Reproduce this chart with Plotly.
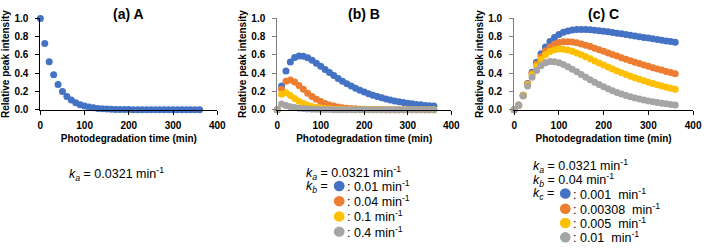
import plotly.graph_objects as go

# ---------------- data ----------------
time_min = [0, 10, 20, 30, 40, 50, 60, 70, 80, 90, 100, 110, 120, 130, 140, 150, 160, 170, 180,
            190, 200, 210, 220, 230, 240, 250, 260, 270, 280, 290, 300, 310, 320, 330, 340, 350, 360]

a_values = [1.000, 0.725, 0.526, 0.382, 0.277, 0.201, 0.146, 0.106, 0.077, 0.056, 0.040, 0.029,
            0.021, 0.015, 0.011, 0.008, 0.006, 0.004, 0.003, 0.002, 0.002, 0.001, 0.001, 0.001,
            0.000, 0.000, 0.000, 0.000, 0.000, 0.000, 0.000, 0.000, 0.000, 0.000, 0.000, 0.000, 0.000]

b_kb_001 = [0.000, 0.261, 0.425, 0.522, 0.571, 0.589, 0.586, 0.568, 0.541, 0.510, 0.476, 0.441,
            0.407, 0.374, 0.342, 0.312, 0.285, 0.259, 0.236, 0.214, 0.194, 0.176, 0.160, 0.145,
            0.131, 0.119, 0.108, 0.097, 0.088, 0.080, 0.072, 0.065, 0.059, 0.054, 0.048, 0.044, 0.040]
b_kb_004 = [0.000, 0.224, 0.313, 0.327, 0.305, 0.266, 0.224, 0.182, 0.146, 0.115, 0.090, 0.069,
            0.053, 0.040, 0.030, 0.023, 0.017, 0.013, 0.010, 0.007, 0.005, 0.004, 0.003, 0.002,
            0.002, 0.001, 0.001, 0.001, 0.000, 0.000, 0.000, 0.000, 0.000, 0.000, 0.000, 0.000, 0.000]
b_kb_01 = [0.000, 0.169, 0.185, 0.157, 0.122, 0.092, 0.068, 0.050, 0.036, 0.026, 0.019, 0.014,
           0.010, 0.007, 0.005, 0.004, 0.003, 0.002, 0.001, 0.001, 0.001, 0.001, 0.000, 0.000,
           0.000, 0.000, 0.000, 0.000, 0.000, 0.000, 0.000, 0.000, 0.000, 0.000, 0.000, 0.000, 0.000]
b_kb_04 = [0.000, 0.062, 0.046, 0.033, 0.024, 0.018, 0.013, 0.009, 0.007, 0.005, 0.004, 0.003,
           0.002, 0.001, 0.001, 0.001, 0.001, 0.000, 0.000, 0.000, 0.000, 0.000, 0.000, 0.000,
           0.000, 0.000, 0.000, 0.000, 0.000, 0.000, 0.000, 0.000, 0.000, 0.000, 0.000, 0.000, 0.000]

c_kc_0001 = [0.000, 0.051, 0.160, 0.288, 0.411, 0.521, 0.613, 0.688, 0.746, 0.791, 0.823, 0.847,
             0.862, 0.872, 0.877, 0.879, 0.878, 0.875, 0.871, 0.866, 0.860, 0.853, 0.846, 0.838,
             0.831, 0.823, 0.815, 0.807, 0.799, 0.792, 0.784, 0.776, 0.769, 0.761, 0.753, 0.746, 0.739]
c_kc_000308 = [0.000, 0.050, 0.158, 0.281, 0.397, 0.498, 0.579, 0.642, 0.687, 0.717, 0.735, 0.744,
               0.745, 0.741, 0.732, 0.721, 0.707, 0.691, 0.674, 0.657, 0.640, 0.622, 0.604, 0.587,
               0.570, 0.553, 0.537, 0.521, 0.505, 0.490, 0.475, 0.461, 0.447, 0.434, 0.420, 0.408, 0.395]
c_kc_0005 = [0.000, 0.050, 0.155, 0.274, 0.385, 0.478, 0.550, 0.602, 0.637, 0.656, 0.664, 0.662,
             0.654, 0.640, 0.622, 0.602, 0.581, 0.558, 0.535, 0.512, 0.490, 0.468, 0.446, 0.425,
             0.405, 0.386, 0.368, 0.350, 0.333, 0.317, 0.302, 0.287, 0.273, 0.260, 0.247, 0.235, 0.224]
c_kc_001 = [0.000, 0.049, 0.150, 0.259, 0.355, 0.430, 0.483, 0.514, 0.527, 0.526, 0.515, 0.496,
            0.472, 0.444, 0.415, 0.386, 0.357, 0.328, 0.301, 0.276, 0.252, 0.230, 0.209, 0.190,
            0.173, 0.157, 0.142, 0.129, 0.117, 0.106, 0.096, 0.087, 0.079, 0.071, 0.065, 0.058, 0.053]

x_ticks = [0, 100, 200, 300, 400]
y_ticks = [0.0, 0.2, 0.4, 0.6, 0.8, 1.0]

panel_titles = ["(a) A", "(b) B", "(c) C"]
x_title = "Photodegradation time (min)"
y_title = "Relative peak intensity"

colors = ["#4472C4", "#ED7D31", "#FFC000", "#A5A5A5"]
kb_labels = [": 0.01 min<sup>-1</sup>", ": 0.04 min<sup>-1</sup>", ": 0.1 min<sup>-1</sup>", ": 0.4 min<sup>-1</sup>"]
kc_labels = [": 0.001  min<sup>-1</sup>", ": 0.00308  min<sup>-1</sup>", ": 0.005  min<sup>-1</sup>", ": 0.01  min<sup>-1</sup>"]

# ---------------- figure ----------------
W, H = 708, 250
FONT = "Arial, 'Liberation Sans', sans-serif"

fig = go.Figure()

def px_x(p):
    return p / W

def px_y(p):
    return 1 - p / H

domains_x = [(38, 218), (279, 456), (520, 702)]
dom_y = (px_y(109), px_y(13))

series = [
    [a_values],
    [b_kb_001, b_kb_004, b_kb_01, b_kb_04],
    [c_kc_0001, c_kc_000308, c_kc_0005, c_kc_001],
]

for i, group in enumerate(series):
    xa = "x" if i == 0 else f"x{i+1}"
    ya = "y" if i == 0 else f"y{i+1}"
    for j, vals in enumerate(group):
        fig.add_trace(go.Scatter(
            x=time_min, y=vals, mode="markers", xaxis=xa, yaxis=ya,
            marker=dict(size=7, color=colors[j], line=dict(width=0)),
            cliponaxis=False, showlegend=False, hoverinfo="skip",
        ))

layout_axes = {}
for i, (x0, x1) in enumerate(domains_x):
    xk = "xaxis" if i == 0 else f"xaxis{i+1}"
    yk = "yaxis" if i == 0 else f"yaxis{i+1}"
    xa = "x" if i == 0 else f"x{i+1}"
    ya = "y" if i == 0 else f"y{i+1}"
    ycol = "#000000" if i == 0 else "#808080"
    layout_axes[xk] = dict(
        domain=[px_x(x0), px_x(x1)], anchor=ya, range=[0, 400],
        tickmode="array", tickvals=x_ticks, ticks="outside", ticklen=4,
        tickcolor="#000000", showline=True, linecolor="#000000", linewidth=1,
        showgrid=False, zeroline=False, ticklabelstandoff=2,
        tickfont=dict(family=FONT, size=10, color="#000000", weight="bold"),
        title=dict(text=f"<b>{x_title}</b>", font=dict(family=FONT, size=10, color="#000000"), standoff=5),
    )
    layout_axes[yk] = dict(
        domain=[dom_y[0], dom_y[1]], anchor=xa, range=[0, 1.0],
        tickmode="array", tickvals=y_ticks, tickformat=".1f", ticks="outside", ticklen=4,
        tickcolor=ycol, showline=True, linecolor=ycol, linewidth=1,
        showgrid=False, zeroline=False, ticklabelstandoff=5,
        tickfont=dict(family=FONT, size=10, color="#000000", weight="bold"),
        title=dict(text=f"<b>{y_title}</b>", font=dict(family=FONT, size=10, color="#000000"), standoff=2),
    )

annotations = []
for i, (x0, x1) in enumerate(domains_x):
    annotations.append(dict(
        text=f"<b>{panel_titles[i]}</b>", x=px_x((x0 + x1) / 2), y=px_y(8),
        xref="paper", yref="paper", xanchor="center", yanchor="middle", showarrow=False,
        font=dict(family=FONT, size=14, color="#000000"),
    ))

def txt(text, xp, yp, size=12.5):
    annotations.append(dict(
        text=text, x=px_x(xp), y=px_y(yp), xref="paper", yref="paper",
        xanchor="left", yanchor="middle", showarrow=False,
        font=dict(family=FONT, size=size, color="#000000"),
        borderpad=0,
    ))

shapes = []
def swatch(c, cx, cy, r=5.5):
    shapes.append(dict(
        type="circle", xref="paper", yref="paper",
        x0=px_x(cx - r), x1=px_x(cx + r), y0=px_y(cy + r), y1=px_y(cy - r),
        fillcolor=c, line=dict(width=0),
    ))

ka_text = "<i>k</i><sub><i>a</i></sub> = 0.0321 min<sup>-1</sup>"
kb_text = "<i>k</i><sub><i>b</i></sub> = 0.04 min<sup>-1</sup>"

# panel A
txt(ka_text, 66, 176)
# panel B
txt(ka_text, 307, 175)
txt("<i>k</i><sub><i>b</i></sub> =", 307, 190)
b_rows = [189, 205, 221, 237]
for j in range(4):
    swatch(colors[j], 342, b_rows[j])
    txt(kb_labels[j], 349, b_rows[j])
# panel C
txt(ka_text, 538, 168)
txt(kb_text, 538, 183)
txt("<i>k</i><sub><i>c</i></sub> =", 538, 198)
c_rows = [197, 213, 228, 243]
for j in range(4):
    swatch(colors[j], 572, c_rows[j])
    txt(kc_labels[j], 579, c_rows[j])

fig.update_layout(
    width=W, height=H, margin=dict(l=0, r=0, t=0, b=0),
    paper_bgcolor="white", plot_bgcolor="white",
    font=dict(family=FONT, color="#000000"),
    annotations=annotations, shapes=shapes, showlegend=False,
    **layout_axes,
)

fig.write_html(
    "out.html",
    config={"displayModeBar": False},
    post_script="document.body.style.margin='0';document.body.style.overflow='hidden';",
)
